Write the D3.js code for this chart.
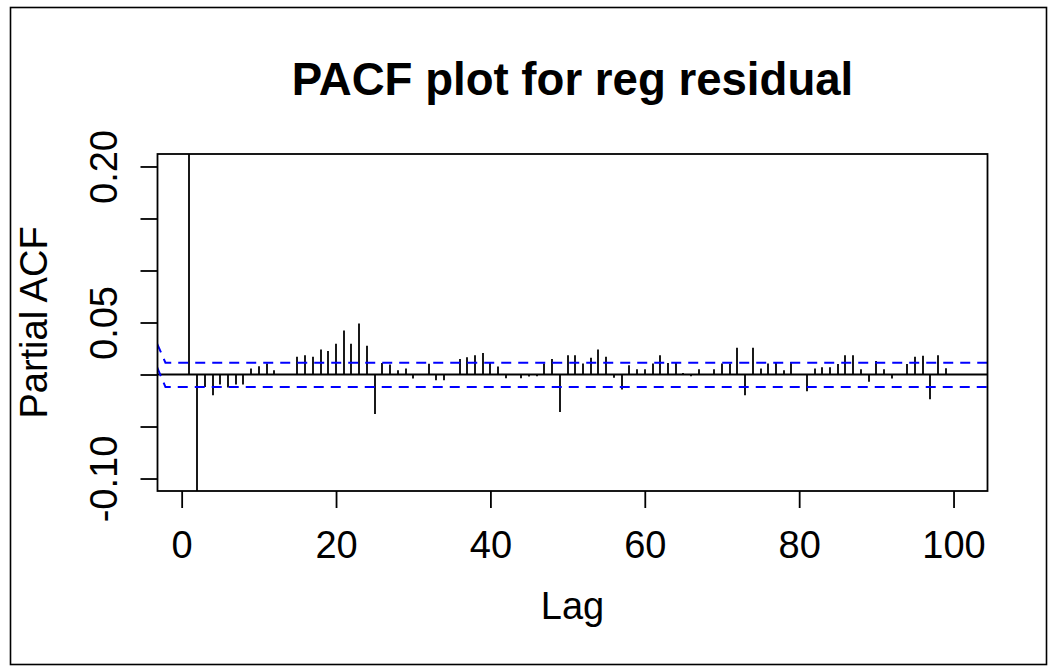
<!DOCTYPE html>
<html><head><meta charset="utf-8">
<script src="https://cdn.jsdelivr.net/npm/d3@7"></script>
<style>
body{margin:0;background:#fff}
svg{display:block}
text{font-family:"Liberation Sans",Arial,Helvetica,sans-serif;fill:#000}
</style>
</head><body>
<svg id="c" width="1049" height="666"></svg>
<script>
// ---- data ----
const lags = d3.range(1, 101);
const pacfValues = [
  0.36, -0.14, -0.012, -0.020, -0.0096, -0.0125, -0.0096, -0.0096, 0.0058, 0.008,
  0.0106, 0.0042, 0.0, 0.0, 0.017, 0.0186, 0.017, 0.024, 0.0225, 0.0296,
  0.0424, 0.0296, 0.049, 0.0277, -0.038, 0.011, 0.0096, 0.0042, 0.0058, -0.0039,
  0.0, 0.0103, -0.0055, -0.0055, 0.0, 0.0149, 0.0167, 0.0186, 0.0206, 0.011,
  0.0077, -0.0036, 0.0, -0.0036, -0.0018, -0.0016, 0.0106, 0.015, -0.036, 0.0186,
  0.0186, 0.0106, 0.016, 0.024, 0.017, -0.0032, -0.0145, 0.009, 0.005, 0.005,
  0.0106, 0.0186, 0.011, 0.012, 0.0015, -0.0016, 0.005, 0.0, 0.005, 0.0106,
  0.0106, 0.0257, -0.020, 0.0257, 0.0058, 0.0106, 0.012, 0.0042, 0.012, 0.0,
  -0.016, 0.0058, 0.007, 0.007, 0.010, 0.0186, 0.0186, 0.005, -0.007, 0.013,
  0.005, -0.0039, 0.0, 0.010, 0.017, 0.018, -0.0238, 0.0186, 0.006, 0.0
];
const ciLags = [-3.2, -2.1, 104.6];
const ciUpper = [0.030, 0.0113, 0.0113];
const ciLower = [0.0073, -0.0119, -0.0119];
const xTicks = [0, 20, 40, 60, 80, 100];
const yTicks = [-0.10, -0.05, 0, 0.05, 0.10, 0.15, 0.20];
const yLabelled = [-0.10, 0.05, 0.20];
const titleText = "PACF plot for reg residual";
const xTitle = "Lag";
const yTitle = "Partial ACF";

// ---- layout ----
const svg = d3.select("#c");
const L = 157.5, R = 987.5, T = 154, B = 491;
const x = d3.scaleLinear().domain([-3.13, 104.4]).range([L, R]);
const y = d3.scaleLinear().domain([-0.112, 0.212]).range([B, T]);
const fs = 38;
const fmtY = d => d3.format(".2f")(d).replace("\u2212", "-");

// outer frame
svg.append("rect").attr("x", 10.5).attr("y", 7.5).attr("width", 1036).attr("height", 657)
  .attr("fill", "none").attr("stroke", "#000").attr("stroke-width", 1.6);

svg.append("clipPath").attr("id", "clip").append("rect")
  .attr("x", L).attr("y", T).attr("width", R - L).attr("height", B - T);
const plot = svg.append("g").attr("clip-path", "url(#clip)");

// spikes
plot.selectAll("line.spike").data(lags).enter().append("line")
  .attr("class", "spike")
  .attr("x1", d => Math.round(x(d))).attr("x2", d => Math.round(x(d)))
  .attr("y1", y(0)).attr("y2", (d, i) => y(pacfValues[i]))
  .attr("stroke", "#000").attr("stroke-width", 1.8);

// zero line
plot.append("line").attr("x1", L).attr("x2", R).attr("y1", y(0)).attr("y2", y(0))
  .attr("stroke", "#000").attr("stroke-width", 1.8);

// confidence bounds
const ciLine = arr => d3.line().x((d, i) => x(ciLags[i])).y((d, i) => y(arr[i]))(arr);
[ciUpper, ciLower].forEach(arr => {
  plot.append("path").attr("d", ciLine(arr)).attr("fill", "none")
    .attr("stroke", "#0000ff").attr("stroke-width", 2)
    .attr("stroke-dasharray", "10,7");
});

// box
svg.append("rect").attr("x", L).attr("y", T).attr("width", R - L).attr("height", B - T)
  .attr("fill", "none").attr("stroke", "#000").attr("stroke-width", 1.8);

// x axis
const xa = svg.append("g").attr("transform", `translate(0,${B})`)
  .call(d3.axisBottom(x).tickValues(xTicks).tickSize(17).tickPadding(0).tickFormat(d3.format("d")));
xa.select(".domain").remove();
xa.selectAll(".tick line").attr("stroke", "#000").attr("stroke-width", 1.8);
xa.selectAll(".tick text").attr("dy", null).attr("y", 558 - B)
  .style("font-size", fs + "px").attr("fill", "#000");

// y axis
const ya = svg.append("g").attr("transform", `translate(${L},0)`)
  .call(d3.axisLeft(y).tickValues(yTicks).tickSize(17)
    .tickFormat(d => yLabelled.some(v => Math.abs(v - d) < 1e-9) ? fmtY(d) : ""));
ya.select(".domain").remove();
ya.selectAll(".tick line").attr("stroke", "#000").attr("stroke-width", 1.8);
ya.selectAll(".tick text").attr("x", null).attr("dy", null)
  .attr("text-anchor", "middle")
  .attr("transform", `translate(${117 - L},0) rotate(-90)`)
  .style("font-size", fs + "px").attr("fill", "#000");

// titles
svg.append("text").attr("x", (L + R) / 2).attr("y", 95).attr("text-anchor", "middle")
  .style("font-size", (fs * 1.2) + "px").style("font-weight", "bold").text(titleText);
svg.append("text").attr("x", (L + R) / 2).attr("y", 619).attr("text-anchor", "middle")
  .style("font-size", fs + "px").text(xTitle);
svg.append("text").attr("transform", `translate(47,${(T + B) / 2}) rotate(-90)`)
  .attr("text-anchor", "middle").style("font-size", fs + "px").text(yTitle);
</script>
</body></html>
